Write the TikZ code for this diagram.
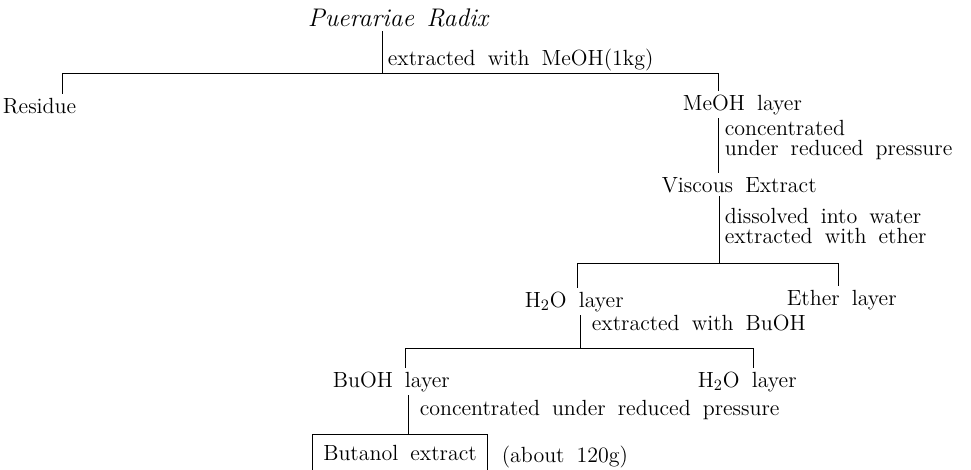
\documentclass[tikz,border=0pt]{standalone}
\usepackage{amsmath}
\usetikzlibrary{positioning}
\newcommand{\flowfont}{\fontsize{12.5}{10}\selectfont\spaceskip=0.55em plus 0.1em\relax}
\tikzset{
  txt/.style={anchor=base west, inner sep=2pt, font=\flowfont},
  step2/.style={txt, align=left},
  every edge/.style={draw, line width=0.5pt}
}
\begin{document}
\begin{tikzpicture}[x=0.02cm, y=-0.02cm]
\useasboundingbox (0,0) rectangle (971,470);

\node[txt] (rad) at (304,27)
  {\fontsize{14.5}{16}\selectfont\spaceskip=0.5em\relax\textit{Puerariae Radix}};
\node[txt] (st1) at (384,65) {extracted with MeOH(1kg)};

\coordinate (j1) at (382,73);
\coordinate (j1l) at (62,73);
\coordinate (j1r) at (718,73);

\node[txt] (res) at (-1,113) {Residue};
\node[txt] (meoh) at (679,110) {MeOH layer};

% two-line step labels: base = last line
\node[step2] (st2) at (721,155) {concentrated\\[1.2pt]under reduced pressure};

\node[txt] (visc) at (658,192) {Viscous Extract};

\node[step2] (st3) at (721,243) {dissolved into water\\[1.2pt]extracted with ether};

\coordinate (j2) at (719,263);
\coordinate (j2l) at (577,263);
\coordinate (j2r) at (838,263);

\node[txt] (wat1) at (521,307) {H$_2$O layer};
\node[txt] (eth) at (783,305) {Ether layer};

\node[txt] (st4) at (588,330) {extracted with BuOH};

\coordinate (j3) at (580,348);
\coordinate (j3l) at (405,348);
\coordinate (j3r) at (753,348);

\node[txt] (buoh) at (329,387) {BuOH layer};
\node[txt] (wat2) at (694,387) {H$_2$O layer};

\node[txt] (st5) at (416,415) {concentrated under reduced pressure};

\coordinate (k5) at (408,393);

\node[txt, anchor=center, minimum width=174*0.02cm, minimum height=35*0.02cm]
  (but) at (400,452.5) {Butanol extract};
\node[txt] (amt) at (498,462) {(about 120g)};

% tree lines
\path (rad.south -| j1) edge (j1)
      (j1l) edge (j1r)
      (j1l) edge (res.north -| j1l)
      (j1r) edge (meoh.north -| j1r);
\path (meoh.south -| j1r) edge (visc.north -| j1r)
      (visc.south -| j2) edge (j2);
\path (j2l) edge (j2r)
      (j2l) edge (wat1.north -| j2l)
      (j2r) edge (eth.north -| j2r);
\path (wat1.south -| j3) edge (j3)
      (j3l) edge (j3r)
      (j3l) edge (buoh.north -| j3l)
      (j3r) edge (wat2.north -| j3r);
\path (buoh.south -| k5) edge (but.north -| k5);

% open box
\draw[line width=0.5pt] (but.south west) -- (but.north west)
  -- (but.north east) -- (but.south east);
\end{tikzpicture}
\end{document}
